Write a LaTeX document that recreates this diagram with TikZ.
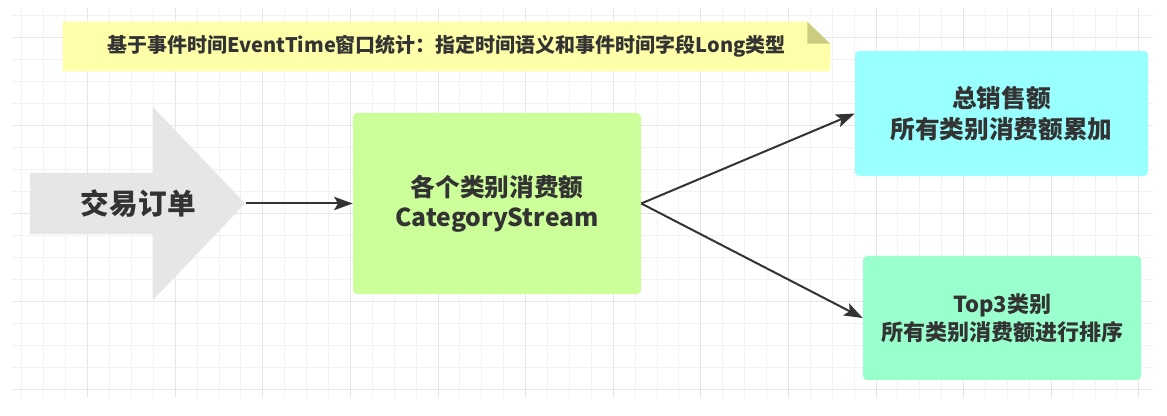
\documentclass[tikz,border=0pt]{standalone}
\usepackage{fontspec}
\setmainfont{Noto Sans CJK SC}
\usetikzlibrary{arrows.meta,shapes.arrows,calc,backgrounds}

\definecolor{gridminor}{HTML}{F2F2F2}
\definecolor{gridmajor}{HTML}{E6E6E6}
\definecolor{notefill}{HTML}{FFFFAA}
\definecolor{notefold}{HTML}{CCCC80}
\definecolor{orderfill}{HTML}{E6E6E6}
\definecolor{catfill}{HTML}{CCFF99}
\definecolor{totalfill}{HTML}{99FFFF}
\definecolor{topfill}{HTML}{99FFCC}
\definecolor{ink}{HTML}{333333}

\begin{document}
\begin{tikzpicture}[
	x=0.75pt, y=-0.75pt,
	minorline/.style={draw=gridminor, line width=0.75pt},
	majorline/.style={draw=gridmajor, line width=0.75pt},
	box/.style={
		rectangle, rounded corners=3pt,
		align=center, text=ink, inner sep=0pt
	},
	flow/.style={-{Stealth[length=14pt, width=10pt, inset=3pt]},
		draw=ink, line width=1.5pt}
	]
	\useasboundingbox (0,0) rectangle (1167,416);

	%% ── Grid paper ──────────────────────────────────────────────────────
	\begin{scope}[on background layer]
	\foreach \k in {1,...,52} {
		\pgfmathsetmacro{\gx}{21.9*\k}
		\pgfmathtruncatemacro{\md}{mod(\k,4)}
		\ifnum\md=0
			\draw[majorline] (\gx,8) -- (\gx,398);
		\else
			\draw[minorline] (\gx,8) -- (\gx,398);
		\fi
	}
	\foreach \k in {0,...,17} {
		\pgfmathsetmacro{\gy}{389.5-22*\k}
		\pgfmathtruncatemacro{\md}{mod(\k,4)}
		\ifnum\md=0
			\draw[majorline] (12,\gy) -- (1153,\gy);
		\else
			\draw[minorline] (12,\gy) -- (1153,\gy);
		\fi
	}
	\end{scope}

	%% ── Note on top ─────────────────────────────────────────────────────
	\node[box, rounded corners=0pt, minimum width=575.25pt, minimum height=36.75pt,
		font=\fontsize{15}{18}\selectfont\bfseries] (note) at (446.5,46.5)
		{基于事件时间EventTime窗口统计：指定时间语义和事件时间字段Long类型};
	\begin{scope}[on background layer]
		\fill[notefill] (note.south west) -- (note.north west)
			-- ($(note.north east)+(-23,0)$) -- ($(note.north east)+(0,22)$)
			-- (note.south east) -- cycle;
		\fill[notefold] ($(note.north east)+(-23,0)$) -- ($(note.north east)+(-23,22)$)
			-- ($(note.north east)+(0,22)$) -- cycle;
	\end{scope}

	%% ── Source ──────────────────────────────────────────────────────────
	\node[single arrow, fill=orderfill, text=ink, inner xsep=0pt, inner ysep=12.4pt,
		minimum height=161.25pt,
		single arrow head extend=49.5pt, single arrow tip angle=92.6,
		font=\fontsize{21.5}{26}\selectfont\bfseries] (order) at (123,203.5)
		{\hspace*{23pt}交易订单};

	%% ── Category stream ─────────────────────────────────────────────────
	\node[box, fill=catfill, minimum width=216pt, minimum height=135.75pt,
		font=\fontsize{18.5}{22.5}\selectfont\bfseries] (cat) at (497,203.5)
		{各个类别消费额\\CategoryStream};

	%% ── Results ─────────────────────────────────────────────────────────
	\node[box, fill=totalfill, minimum width=219.75pt, minimum height=93.75pt,
		font=\fontsize{18.5}{23}\selectfont\bfseries] (total) at (1001.5,113.5)
		{总销售额\\所有类别消费额累加};
	\node[box, fill=topfill, minimum width=208.5pt, minimum height=93pt,
		font=\fontsize{16.5}{21}\selectfont\bfseries] (top3) at (1002,318)
		{Top3类别\\所有类别消费额进行排序};

	%% ── Connectors ──────────────────────────────────────────────────────
	\draw[flow] (order.tip) -- (cat.west);
	\draw[flow] (cat.east) -- (total.west);
	\draw[flow] (cat.east) -- (top3.west);

\end{tikzpicture}
\end{document}
